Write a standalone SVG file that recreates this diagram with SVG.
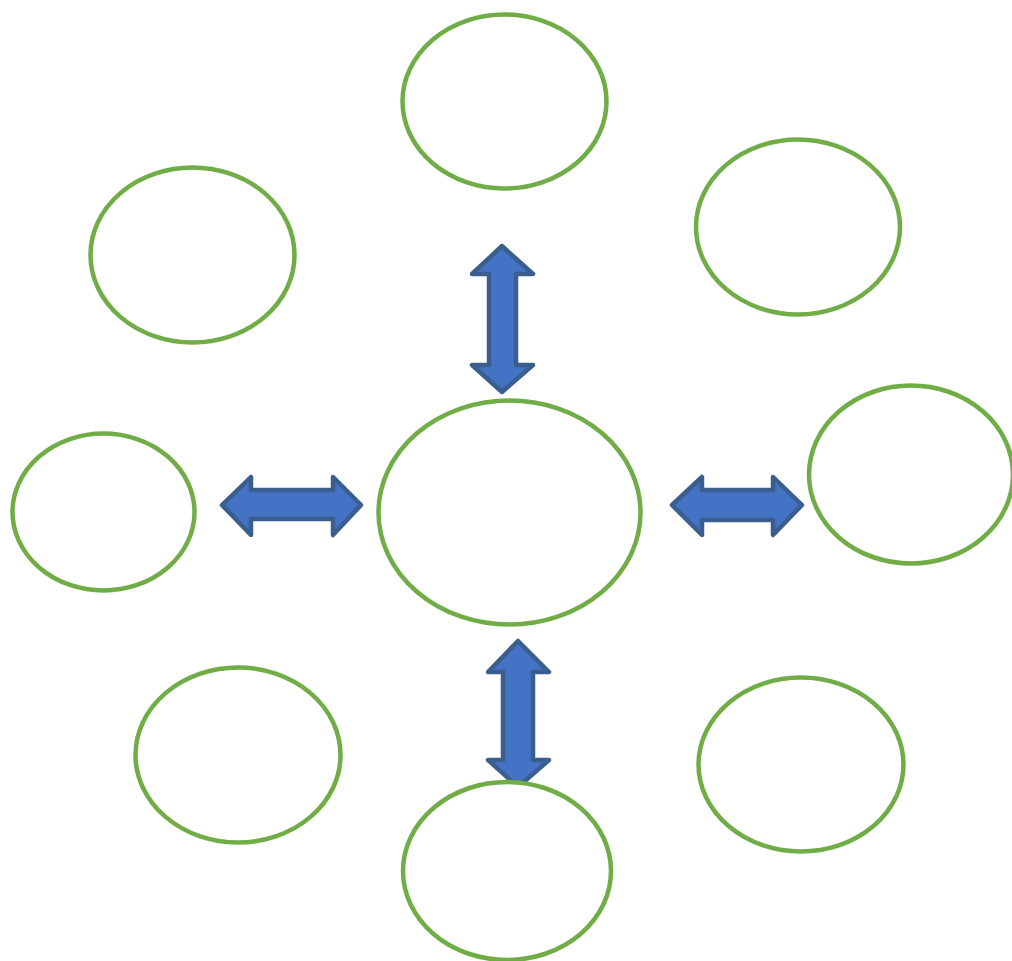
<svg xmlns="http://www.w3.org/2000/svg" width="1012" height="961" viewBox="0 0 1012 961">
<style>
.node{fill:#FFFFFF;stroke:#70AD47;stroke-width:4.5}
.arrow{fill:#4472C4;stroke:#3A5F8F;stroke-width:4.5;stroke-linejoin:round}
</style>
<rect width="1012" height="961" fill="#FFFFFF"/>
<g id="connectors">
<path class="arrow" d="M502,246 L533,274 L516,274 L516,365 L533,365 L502,392 L472,365 L489,365 L489,274 L472,274 Z"/>
<path class="arrow" d="M222,505 L251,477 L251,490 L333,490 L333,477 L361,505 L333,535 L333,519 L251,519 L251,535 Z"/>
<path class="arrow" d="M672,505 L702,477 L702,490 L773,490 L773,477 L802,505 L773,535 L773,520 L702,520 L702,535 Z"/>
<path class="arrow" d="M518,641 L549,672 L533,672 L533,760 L549,760 L518,787 L488,760 L503,760 L503,672 L488,672 Z"/>
</g>
<g id="node-top"><ellipse class="node" cx="504.5" cy="101.5" rx="102" ry="87"/></g>
<g id="node-top-right"><ellipse class="node" cx="798" cy="227" rx="102" ry="87.5"/></g>
<g id="node-top-left"><ellipse class="node" cx="192.5" cy="255" rx="102" ry="87.5"/></g>
<g id="node-left"><ellipse class="node" cx="103.5" cy="512" rx="91" ry="78.5"/></g>
<g id="node-center"><ellipse class="node" cx="509.5" cy="512.5" rx="131" ry="112"/></g>
<g id="node-right"><ellipse class="node" cx="911" cy="474.5" rx="102" ry="89"/></g>
<g id="node-bottom-left"><ellipse class="node" cx="238" cy="755" rx="102.5" ry="87.5"/></g>
<g id="node-bottom-right"><ellipse class="node" cx="801" cy="764.5" rx="102.5" ry="87"/></g>
<g id="node-bottom"><ellipse class="node" cx="507" cy="871" rx="104" ry="89"/></g>
</svg>
